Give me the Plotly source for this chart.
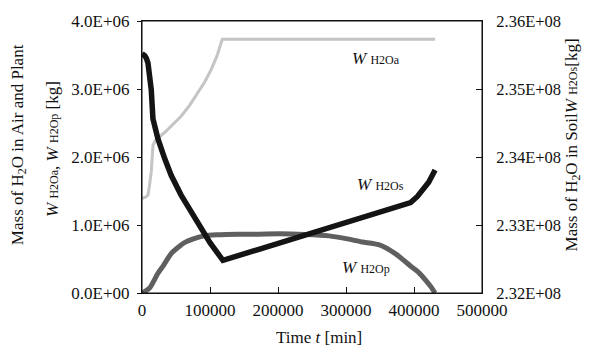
import plotly.graph_objects as go

# ---- data ----
t_air = [0, 1500, 5000, 8800, 11000, 13600, 16100, 20000, 33200, 45000, 57500,
         70000, 82000, 92000, 101500, 110000, 118000, 431000]
w_air = [1.38e6, 1.40e6, 1.41e6, 1.44e6, 1.58e6, 1.78e6, 2.17e6, 2.25e6, 2.36e6,
         2.47e6, 2.60e6, 2.76e6, 2.94e6, 3.10e6, 3.28e6, 3.48e6, 3.73e6, 3.73e6]

t_soil = [0, 1500, 4000, 6500, 8800, 11000, 13600, 16100, 23400, 33200, 42900, 57500,
          72200, 86800, 100000, 119000, 395000, 405000, 414000, 421600, 431000]
w_soil = [2.3552e8, 2.3551e8, 2.3549e8, 2.3545e8, 2.3538e8, 2.3520e8,
          2.3499e8, 2.3456e8, 2.3427e8, 2.3398e8, 2.3373e8, 2.3344e8,
          2.3320e8, 2.3296e8, 2.3274e8, 2.3248e8, 2.3333e8, 2.3342e8,
          2.3354e8, 2.3363e8, 2.3381e8]

t_plant = [0, 3900, 11700, 23400, 31200, 42900, 55600, 62500, 80100, 91800, 110000,
           140500, 170000, 202000, 240000, 275000, 300000, 324000, 348000, 373000,
           397000, 407000, 417000, 425000, 431000]
w_plant = [0, 0.02e6, 0.08e6, 0.29e6, 0.40e6, 0.58e6, 0.69e6, 0.74e6, 0.81e6,
           0.84e6, 0.855e6, 0.865e6, 0.865e6, 0.87e6, 0.86e6, 0.84e6, 0.80e6,
           0.75e6, 0.71e6, 0.575e6, 0.38e6, 0.30e6, 0.19e6, 0.09e6, 0.0]

x_ticks = [0, 100000, 200000, 300000, 400000, 500000]
y1_ticks = [0, 1e6, 2e6, 3e6, 4e6]
y1_labels = ["0.0E+00", "1.0E+06", "2.0E+06", "3.0E+06", "4.0E+06"]
y2_ticks = [2.32e8, 2.33e8, 2.34e8, 2.35e8, 2.36e8]
y2_labels = ["2.32E+08", "2.33E+08", "2.34E+08", "2.35E+08", "2.36E+08"]

FONT = "Liberation Serif"

fig = go.Figure()
fig.add_trace(go.Scatter(x=t_air, y=w_air, mode="lines",
                         line=dict(color="#c4c4c4", width=3), yaxis="y"))
fig.add_trace(go.Scatter(x=t_plant, y=w_plant, mode="lines",
                         line=dict(color="#5f5f5f", width=5, shape="spline", smoothing=0.6),
                         yaxis="y"))
fig.add_trace(go.Scatter(x=t_soil, y=w_soil, mode="lines",
                         line=dict(color="#141414", width=5.5), yaxis="y2"))

sub = "<span style='font-size:12px'>{}</span>"
common = dict(showarrow=False, xanchor="center", yanchor="middle", font=dict(size=17))
annots = [
    dict(x=344000, y=3.45e6, xref="x", yref="y", text="<i>W</i> " + sub.format("H2Oa"), **common),
    dict(x=350000, y=1.60e6, xref="x", yref="y", text="<i>W</i> " + sub.format("H2Os"), **common),
    dict(x=329000, y=0.37e6, xref="x", yref="y", text="<i>W</i> " + sub.format("H2Op"), **common),
    dict(x=-0.362, y=0.547, xref="paper", yref="paper", textangle=-90,
         text="Mass of H<sub>2</sub>O in Air and Plant", **common),
    dict(x=-0.265, y=0.529, xref="paper", yref="paper", textangle=-90,
         text="<i>W</i> " + sub.format("H2Oa") + ", <i>W</i> " + sub.format("H2Op") + " [kg]",
         **common),
    dict(x=1.268, y=0.543, xref="paper", yref="paper", textangle=-90,
         text="Mass of H<sub>2</sub>O in Soil<i>W</i> " + sub.format("H2Os") + "[kg]", **common),
    dict(x=0.52, y=-0.165, xref="paper", yref="paper",
         text="Time <i>t</i> [min]", **common),
]

fig.update_layout(
    width=589, height=349,
    margin=dict(l=142, r=107, t=17, b=56),
    paper_bgcolor="white", plot_bgcolor="white",
    showlegend=False,
    font=dict(family=FONT, size=17, color="#111"),
    annotations=annots,
    shapes=[dict(type="rect", xref="paper", yref="paper", x0=0, y0=0, x1=1, y1=1,
                 line=dict(color="#111", width=1), layer="above")],
    xaxis=dict(range=[0, 500000], tickvals=x_ticks, ticktext=[str(v) for v in x_ticks],
               ticks="inside", ticklen=6, tickcolor="#111", ticklabelstandoff=2,
               ticklabeloverflow="allow",
               showline=True, linecolor="#111", linewidth=1, mirror=True,
               showgrid=False, zeroline=False, tickfont=dict(size=17)),
    yaxis=dict(range=[0, 4e6], tickvals=y1_ticks, ticktext=y1_labels,
               ticks="outside", ticklen=4, tickcolor="#111", ticklabelstandoff=4,
               ticklabeloverflow="allow",
               showline=True, linecolor="#111", linewidth=1,
               showgrid=False, zeroline=False, tickfont=dict(size=17)),
    yaxis2=dict(range=[2.32e8, 2.36e8], tickvals=y2_ticks, ticktext=y2_labels,
                overlaying="y", side="right",
                ticks="inside", ticklen=6, tickcolor="#111", ticklabelstandoff=10,
                ticklabeloverflow="allow",
                showline=True, linecolor="#111", linewidth=1,
                showgrid=False, zeroline=False, tickfont=dict(size=16.5)),
)

fig.write_html("out.html", config={"displayModeBar": False},
               post_script="document.body.style.margin='0';document.body.style.overflow='hidden';")
